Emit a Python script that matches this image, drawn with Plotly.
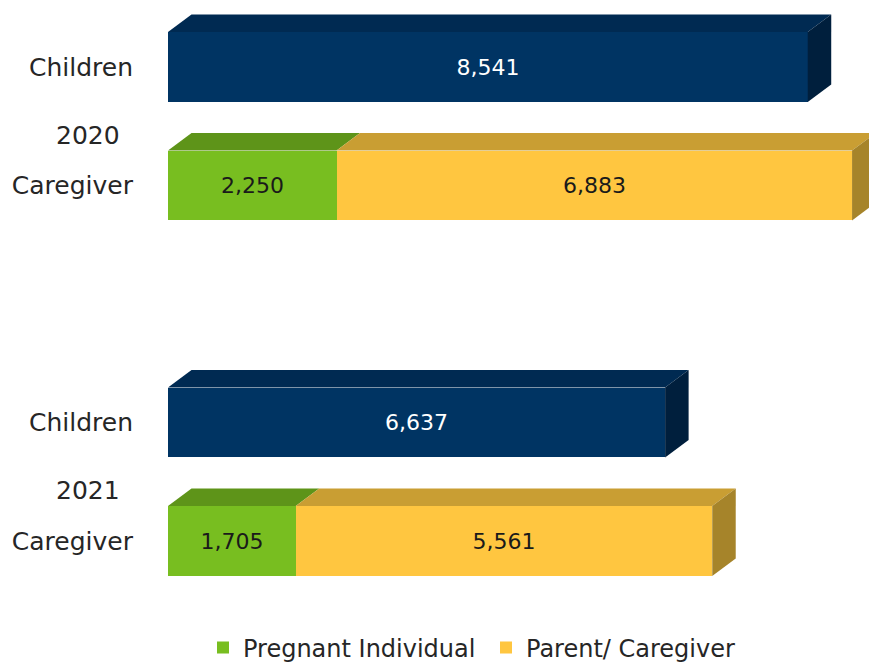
import plotly.graph_objects as go

# ---- data ----
years = ["2020", "2021"]
row_labels = ["Children", "Caregiver"]
children = [8541, 6637]
pregnant = [2250, 1705]
parent = [6883, 5561]

# ---- styling ----
FONT = "DejaVu Sans"
NAVY, NAVY_TOP, NAVY_SIDE = "#003463", "#002A52", "#001F3D"
GREEN, GREEN_TOP = "#78BE20", "#5E9419"
YELLOW, YELLOW_TOP, YELLOW_SIDE = "#FFC640", "#C99E33", "#A6842A"

W, H = 869, 662
L, R, T, B = 168, 0, 0, 62
PX_PER_X = 0.0749          # pixels per data unit on x
PX_PER_Y = 118.5           # pixels per category row
ROW0_PX = 67               # pixel centre of first row
BAR_W = 0.59
plot_w = W - L - R
plot_h = H - T - B
xmax = plot_w / PX_PER_X
ytop = -ROW0_PX / PX_PER_Y
ybot = (plot_h - ROW0_PX) / PX_PER_Y
DX = 23.5 / PX_PER_X        # 3D depth offset in data units
DY = 17.5 / PX_PER_Y

# row positions: children at 3*i, caregiver at 3*i+1
y_child = [3 * i for i in range(len(years))]
y_care = [3 * i + 1 for i in range(len(years))]

fig = go.Figure()
fig.add_trace(go.Bar(
    y=y_child, x=children, orientation="h", width=BAR_W,
    marker=dict(color=NAVY, line=dict(width=0)),
    texttemplate="%{x:,}", textposition="inside", insidetextanchor="middle",
    textangle=0, textfont=dict(color="white", size=22, family=FONT),
    showlegend=False, name="Children", hoverinfo="skip"))
fig.add_trace(go.Bar(
    y=y_care, x=pregnant, orientation="h", width=BAR_W,
    marker=dict(color=GREEN, line=dict(width=0)),
    texttemplate="%{x:,}", textposition="inside", insidetextanchor="middle",
    textangle=0, textfont=dict(color="#1a1a1a", size=22, family=FONT),
    name="Pregnant Individual", hoverinfo="skip"))
fig.add_trace(go.Bar(
    y=y_care, x=parent, base=pregnant, orientation="h", width=BAR_W,
    marker=dict(color=YELLOW, line=dict(width=0)),
    texttemplate="%{x:,}", textposition="inside", insidetextanchor="middle",
    textangle=0, textfont=dict(color="#1a1a1a", size=22, family=FONT),
    name="Parent/ Caregiver", hoverinfo="skip"))

shapes = []


def poly(pts, color):
    path = "M " + " L ".join(f"{x},{y}" for x, y in pts) + " Z"
    shapes.append(dict(type="path", path=path, xref="x", yref="y",
                       fillcolor=color, line=dict(width=0), layer="above"))


def top_face(b, v, c, color):
    yt = c - BAR_W / 2
    poly([(b, yt), (b + v, yt), (b + v + DX, yt - DY), (b + DX, yt - DY)], color)


def side_face(end, c, color):
    yt = c - BAR_W / 2
    yb = c + BAR_W / 2
    poly([(end, yt), (end + DX, yt - DY), (end + DX, yb - DY), (end, yb)], color)


for i in range(len(years)):
    top_face(0, children[i], y_child[i], NAVY_TOP)
    side_face(children[i], y_child[i], NAVY_SIDE)
    top_face(0, pregnant[i], y_care[i], GREEN_TOP)
    top_face(pregnant[i], parent[i], y_care[i], YELLOW_TOP)
    side_face(pregnant[i] + parent[i], y_care[i], YELLOW_SIDE)

annotations = []
for i, yr in enumerate(years):
    annotations.append(dict(
        text=yr, xref="paper", yref="y",
        x=-80 / plot_w, y=(y_child[i] + y_care[i]) / 2 + 0.075,
        xanchor="center", yanchor="middle", showarrow=False,
        font=dict(size=25, family=FONT, color="#262626")))

fig.update_layout(
    width=W, height=H,
    margin=dict(l=L, r=R, t=T, b=B, autoexpand=False),
    paper_bgcolor="white", plot_bgcolor="white",
    barmode="stack", bargap=0,
    shapes=shapes, annotations=annotations,
    font=dict(family=FONT, color="#262626"),
    xaxis=dict(range=[0, xmax], visible=False, showgrid=False, zeroline=False),
    yaxis=dict(range=[ybot, ytop], showgrid=False, zeroline=False, showline=False,
               tickmode="array",
               tickvals=y_child + y_care,
               ticktext=[row_labels[0]] * len(years) + [row_labels[1]] * len(years),
               ticks="", ticklabelstandoff=34,
               tickfont=dict(size=25, family=FONT, color="#262626")),
    legend=dict(orientation="h", xref="container", yref="container",
                x=203 / W, y=(H - 648) / H, xanchor="left", yanchor="middle",
                font=dict(size=24, family=FONT, color="#262626"),
                entrywidth=238, entrywidthmode="pixels",
                traceorder="normal"),
)

fig.write_html("out.html", config={"displayModeBar": False},
               post_script="document.body.style.margin='0';document.body.style.overflow='hidden';")
